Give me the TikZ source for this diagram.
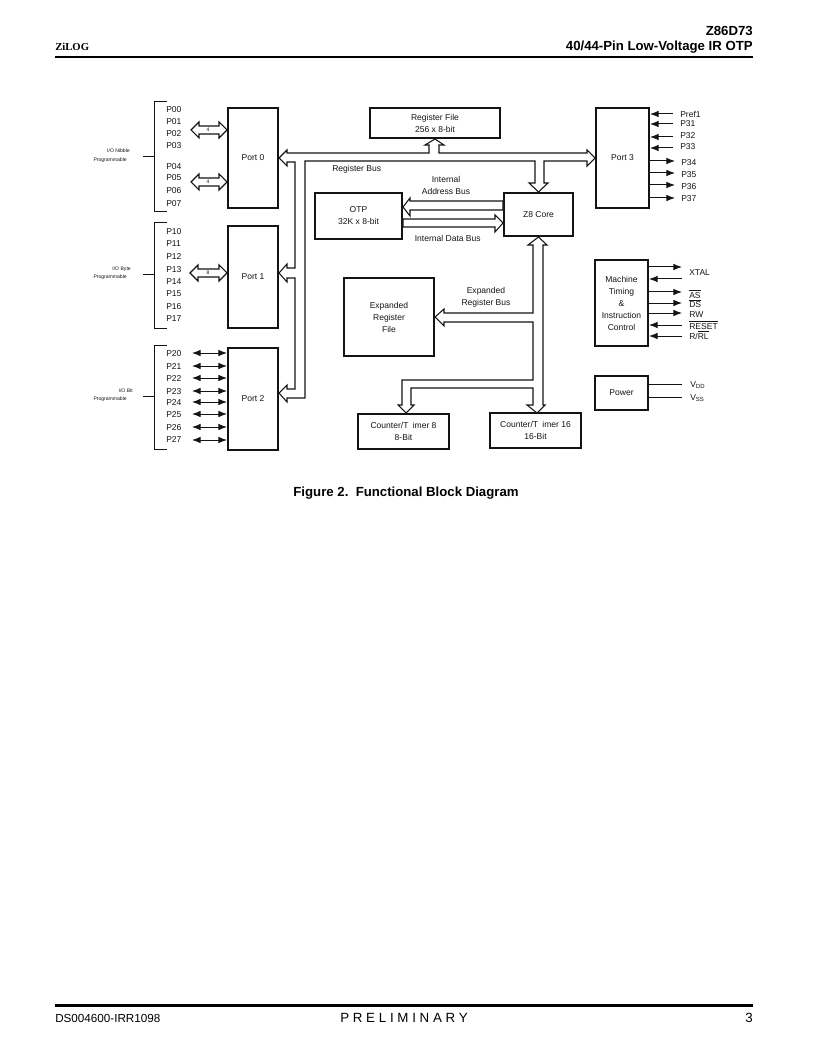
\documentclass[tikz,border=0pt]{standalone}
\usepackage{fontspec}
\setmainfont{Liberation Sans}
\newfontfamily\hdrserif{Liberation Serif}
\usetikzlibrary{arrows.meta,calc}
\definecolor{ink}{gray}{0.08}
\newcommand{\lbltxt}{\fontsize{6.4}{9}\selectfont}
\newcommand{\tinytxt}{\fontsize{3.8}{4.6}\selectfont}
\newcommand{\blk}[6]{\node[blockbox,minimum width={(#4-#2)*0.75pt},minimum height={(#5-#3)*0.75pt}] (#1) at ({(#2+#4)/2},{(#3+#5)/2}) {#6};}
% hollow double-headed arrow between two named points
\newcommand{\dblbus}[2]{\draw[bus] (#1) -- ++(8,-8) -- ++(0,4) -- ($(#2)+(-8,-4)$) -- ++(0,-4) -- (#2) -- ++(-8,8) -- ++(0,-4) -- ($(#1)+(8,4)$) -- ++(0,4) -- cycle;}
\tikzset{
  blockbox/.style={draw=ink,line width=1.5pt,inner sep=0pt,align=center,font=\lbltxt,text=ink},
  bus/.style={draw=ink,line width=0.8pt,fill=white,line join=miter},
  plain/.style={font=\lbltxt,text=ink,inner sep=0pt,anchor=west},
  small/.style={font=\tinytxt,text=ink,inner sep=0pt,anchor=east,align=right},
  mid/.style={font=\lbltxt,text=ink,inner sep=0pt,align=center},
  tiny/.style={font=\tinytxt,text=ink,inner sep=0pt},
  wire/.style={draw=ink,line width=0.75pt},
  sigout/.style={wire,-{Latex[length=6.5pt,width=5pt]}},
  sigin/.style={wire,-{Latex[length=6.5pt,width=5pt]}},
  sigboth/.style={wire,{Latex[length=6.5pt,width=5pt]}-{Latex[length=6.5pt,width=5pt]}},
  rulebar/.style={draw=black,line width=2.2pt},
}
\begin{document}
\begin{tikzpicture}[x=0.75pt,y=-0.75pt]
\useasboundingbox (0,0) rectangle (816,1055);
% page furniture
\node[anchor=east,inner sep=0pt,font=\bfseries\fontsize{9.9}{11}\selectfont] (hdrA) at (753,31) {Z86D73};
\node[anchor=east,inner sep=0pt,font=\bfseries\fontsize{9.9}{11}\selectfont] (hdrB) at (753,47) {40/44-Pin Low-Voltage IR OTP};
\node[anchor=west,inner sep=0pt,font=\hdrserif\bfseries\fontsize{8}{11}\selectfont] (hdrC) at (55,47) {ZiLOG};
\coordinate (ruleAl) at (55,57); \coordinate (ruleAr) at (753,57);
\draw[rulebar] (ruleAl) -- (ruleAr);
\coordinate (ruleBl) at (55,1005.5); \coordinate (ruleBr) at (753,1005.5);
\draw[rulebar] (ruleBl) -- (ruleBr);
\node[anchor=west,inner sep=0pt,font=\fontsize{8.75}{12}\selectfont] (ftrA) at (55,1018) {DS004600-IRR1098};
\node[inner sep=0pt,font=\fontsize{10}{12}\selectfont\addfontfeature{LetterSpace=28}] (ftrB) at (404,1018) {PRELIMINARY};
\node[anchor=east,inner sep=0pt,font=\fontsize{10}{12}\selectfont] (ftrC) at (753,1018) {3};
\node[inner sep=0pt,font=\bfseries\fontsize{9.9}{12}\selectfont] (caption) at (406,493) {Figure 2.\ \ Functional Block Diagram};

% blocks
\blk{port0}{228}{108}{278}{208}{Port 0}
\blk{port1}{228}{226}{278}{328}{Port 1}
\blk{port2}{228}{348}{278}{450}{Port 2}
\blk{port3}{596}{108}{649}{208}{Port 3}
\blk{regfile}{370}{108}{500}{138}{Register File\\256 x 8-bit}
\blk{otp}{315}{193}{402}{239}{OTP\\32K x 8-bit}
\blk{core}{504}{193}{573}{236}{Z8 Core}
\blk{expfile}{344}{278}{434}{356}{Expanded\\Register\\File}
\blk{ct8}{358}{414}{449}{449}{Counter/T\hspace{3.2pt}imer 8\\8-Bit}
\blk{ct16}{490}{413}{581}{448}{Counter/T\hspace{3.2pt}imer 16\\16-Bit}
\blk{mach}{595}{260}{648}{346}{Machine\\Timing\\\&\\Instruction\\Control}
\blk{power}{595}{376}{648}{410}{Power}

% pin brackets
\draw[wire] (167,102) -- (154,102) -- (154,212) -- (167,212);
\draw[wire] (167,223) -- (154,223) -- (154,328) -- (167,328);
\draw[wire] (167,345) -- (154,345) -- (154,449) -- (167,449);
\coordinate (brA) at (154,157); \coordinate (stubA) at (143,157); \draw[wire] (stubA) -- (brA);
\coordinate (brB) at (154,275); \coordinate (stubB) at (143,275); \draw[wire] (stubB) -- (brB);
\coordinate (brC) at (154,396); \coordinate (stubC) at (143,396); \draw[wire] (stubC) -- (brC);
\node[small] (ioA) at (130,151) {I/O Nibble};
\node[small] (prA) at (127,160) {Programmable};
\node[small] (ioB) at (131,269) {I/O Byte};
\node[small] (prB) at (127,277) {Programmable};
\node[small] (ioC) at (133,391) {I/O Bit};
\node[small] (prC) at (127,399) {Programmable};

% pin labels
\foreach \n/\y in {P00/110,P01/122,P02/134,P03/146,P04/167,P05/178,P06/191,P07/204,
  P10/232,P11/244,P12/257,P13/270,P14/282,P15/294,P16/307,P17/319,
  P20/354,P21/367,P22/379,P23/392,P24/403,P25/415,P26/428,P27/440}
  \node[plain] (\n) at (166,\y) {\n};

% hollow nibble/byte arrows
\coordinate (hA) at (191,130); \coordinate (hB) at (191,182); \coordinate (hC) at (190,273);
\dblbus{hA}{port0.west |- hA}
\dblbus{hB}{port0.west |- hB}
\dblbus{hC}{port1.west |- hC}
\node[tiny] (nA) at (208,130) {4};
\node[tiny] (nB) at (208,182) {4};
\node[tiny] (nC) at (208,273) {8};

% port 2 pins
\foreach \n/\y in {a/353,b/366,c/378,d/391,e/402,f/414,g/427,h/440}{
  \coordinate (w\n) at (192,\y);
  \draw[sigboth] (w\n) -- (port2.west |- w\n);
}

% register bus
\draw[bus] (port0.east) -- (287,150) -- (287,153) -- (429,153) -- (429,145) -- (425,145)
  -- (regfile.south) -- (444,145) -- (439,145) -- (439,153) -- (587,153) -- (587,150)
  -- (port3.west) -- (587,166) -- (587,161) -- (544,161) -- (544,183) -- (548,183)
  -- (core.north) -- (529,183) -- (535,183) -- (535,161) -- (305,161) -- (305,398)
  -- (287,398) -- (287,402) -- (port2.east |- 0,393) -- (287,385) -- (287,389) -- (295,389)
  -- (295,278) -- (287,278) -- (287,282) -- (port1.east |- 0,273) -- (287,264) -- (287,268)
  -- (295,268) -- (295,162) -- (287,162) -- (287,166) -- cycle;

% OTP buses
\draw[bus] (otp.east |- 0,207) -- (410,198) -- (410,201) -- (core.west |- 0,201)
  -- (core.west |- 0,210) -- (410,210) -- (410,216) -- cycle;
\draw[bus] (otp.east |- 0,219) -- (495,219) -- (495,215) -- (core.west |- 0,223)
  -- (495,232) -- (495,227) -- (otp.east |- 0,227) -- cycle;

% expanded register bus
\draw[bus] (core.south) -- (547,245) -- (543,245) -- (543,405) -- (545,405)
  -- (537,413) -- (527,405) -- (533,405) -- (533,388) -- (411,388) -- (411,405) -- (414,405)
  -- (406,413) -- (398,405) -- (402,405) -- (402,380) -- (533,380) -- (533,322)
  -- (444,322) -- (444,326) -- (expfile.east) -- (444,309) -- (444,313) -- (533,313)
  -- (533,245) -- (528,245) -- cycle;

% bus labels
\node[plain] (lblReg) at (332,169) {Register Bus};
\node[mid] (lblAddr) at (446,185) {Internal\\Address Bus};
\node[plain] (lblData) at (414.5,238) {Internal Data Bus};
\node[mid] (lblExp) at (486,297) {Expanded\\Register Bus};

% port 3 signals
\foreach \n/\y in {q/114,r/124,s/137,t/148}{
  \coordinate (c\n) at (673,\y);
  \draw[sigin] (c\n) -- (port3.east |- c\n);
}
\foreach \n/\y in {u/161,v/173,w/185,x/198}{
  \coordinate (c\n) at (675,\y);
  \draw[sigout] (port3.east |- c\n) -- (c\n);
}
\foreach \t/\x/\y in {Pref1/680/114,P31/680/124,P32/680/136,P33/680/147,P34/681/163,P35/681/175,P36/681/187,P37/681/199}
  \node[plain] (l\t) at (\x,\y) {\t};

% machine signals
\foreach \n/\y in {a/267,c/292,d/303,e/313}{
  \coordinate (m\n) at (682,\y);
  \draw[sigout] (mach.east |- m\n) -- (m\n);
}
\foreach \n/\y in {b/279,f/325,g/336}{
  \coordinate (m\n) at (682,\y);
  \draw[sigin] (m\n) -- (mach.east |- m\n);
}
\node[plain] (lXTAL) at (689,273) {XTAL};
\node[plain] (lAS) at (689,294) {$\overline{\mbox{AS}}$};
\node[plain] (lDS) at (689,303.5) {$\overline{\mbox{DS}}$};
\node[plain] (lRW) at (689,315) {RW};
\node[plain] (lRESET) at (689,325) {$\overline{\mbox{RESET}}$};
\node[plain] (lRRL) at (689,335) {R/$\overline{\mbox{RL}}$};

% power
\coordinate (pA) at (682,384); \coordinate (pB) at (682,397);
\draw[wire] (power.east |- pA) -- (pA);
\draw[wire] (power.east |- pB) -- (pB);
\node[plain] (lVDD) at (690,385) {V\textsubscript{DD}};
\node[plain] (lVSS) at (690,398) {V\textsubscript{SS}};
\end{tikzpicture}
\end{document}
